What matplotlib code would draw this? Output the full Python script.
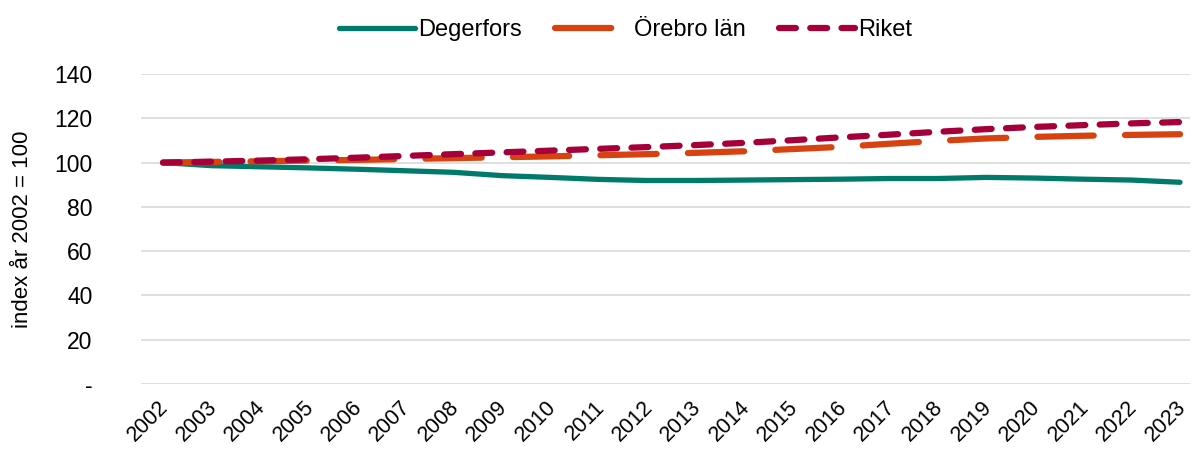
import matplotlib.pyplot as plt
import matplotlib.transforms as mtransforms
import numpy as np

plt.rcParams['font.family'] = ['Liberation Sans', 'DejaVu Sans']

years = [str(y) for y in range(2002, 2024)]
degerfors = [100, 98.6, 98.1, 97.6, 97.0, 96.3, 95.6, 94.1, 93.3, 92.4, 91.9,
             91.9, 92.1, 92.3, 92.5, 92.8, 92.8, 93.3, 93.0, 92.5, 92.1, 91.1]
orebro = [100, 100.3, 100.6, 100.9, 101.2, 101.6, 102.0, 102.4, 102.8, 103.3, 103.8,
          104.4, 105.1, 106.1, 107.1, 108.5, 109.8, 110.9, 111.6, 112.1, 112.5, 112.8]
riket = [100, 100.4, 100.9, 101.5, 102.2, 103.0, 103.8, 104.6, 105.4, 106.2, 107.0,
         107.9, 108.9, 110.1, 111.4, 112.6, 113.9, 115.1, 116.1, 116.9, 117.7, 118.3]
yticks = [0, 20, 40, 60, 80, 100, 120, 140]
ylabels = ['-', '20', '40', '60', '80', '100', '120', '140']

fig = plt.figure(figsize=(11.92, 4.53), dpi=100)
ax = fig.add_axes([141/1192, 1-384/453, (1190-141)/1192, (384-74)/453])

x = np.arange(len(years))
ax.plot(x, degerfors, color='#007a6a', lw=3.8, solid_capstyle='round', label='Degerfors')
ax.plot(x, orebro, color='#d64311', lw=4.5, dash_capstyle='round',
        dashes=(9, 5), label='Örebro län')
ax.plot(x, riket, color='#a5003a', lw=4.5, dash_capstyle='round',
        dashes=(2.7, 2.3), label='Riket')

ax.set_ylim(0, 140)
ax.set_xlim(-0.454, 21.206)
ax.set_yticks(yticks)
ax.set_yticklabels(ylabels, fontsize=16.5)
ax.set_xticks(x)
ax.set_xticklabels(years, rotation=45, ha='right', va='top', rotation_mode='anchor', fontsize=15.5)
ax.tick_params(length=0)
ax.tick_params(axis='y', pad=35)
ax.tick_params(axis='x', pad=9)
shift = mtransforms.ScaledTranslation(-5/100, 0, fig.dpi_scale_trans)
for lab in ax.get_xticklabels():
    lab.set_transform(lab.get_transform() + shift)
ax.grid(axis='y', color='#d9d9d9', lw=1.2)
ax.set_axisbelow(True)
for s in ax.spines.values():
    s.set_visible(False)
ax.set_ylabel('index år 2002 = 100', fontsize=16, labelpad=15)

ax.legend(loc='upper center', bbox_to_anchor=(0.462, 1.245), ncol=3, frameon=False,
          fontsize=17, handlelength=3.2, columnspacing=1.4, handletextpad=0.15)

plt.savefig('out.png', dpi=100)
